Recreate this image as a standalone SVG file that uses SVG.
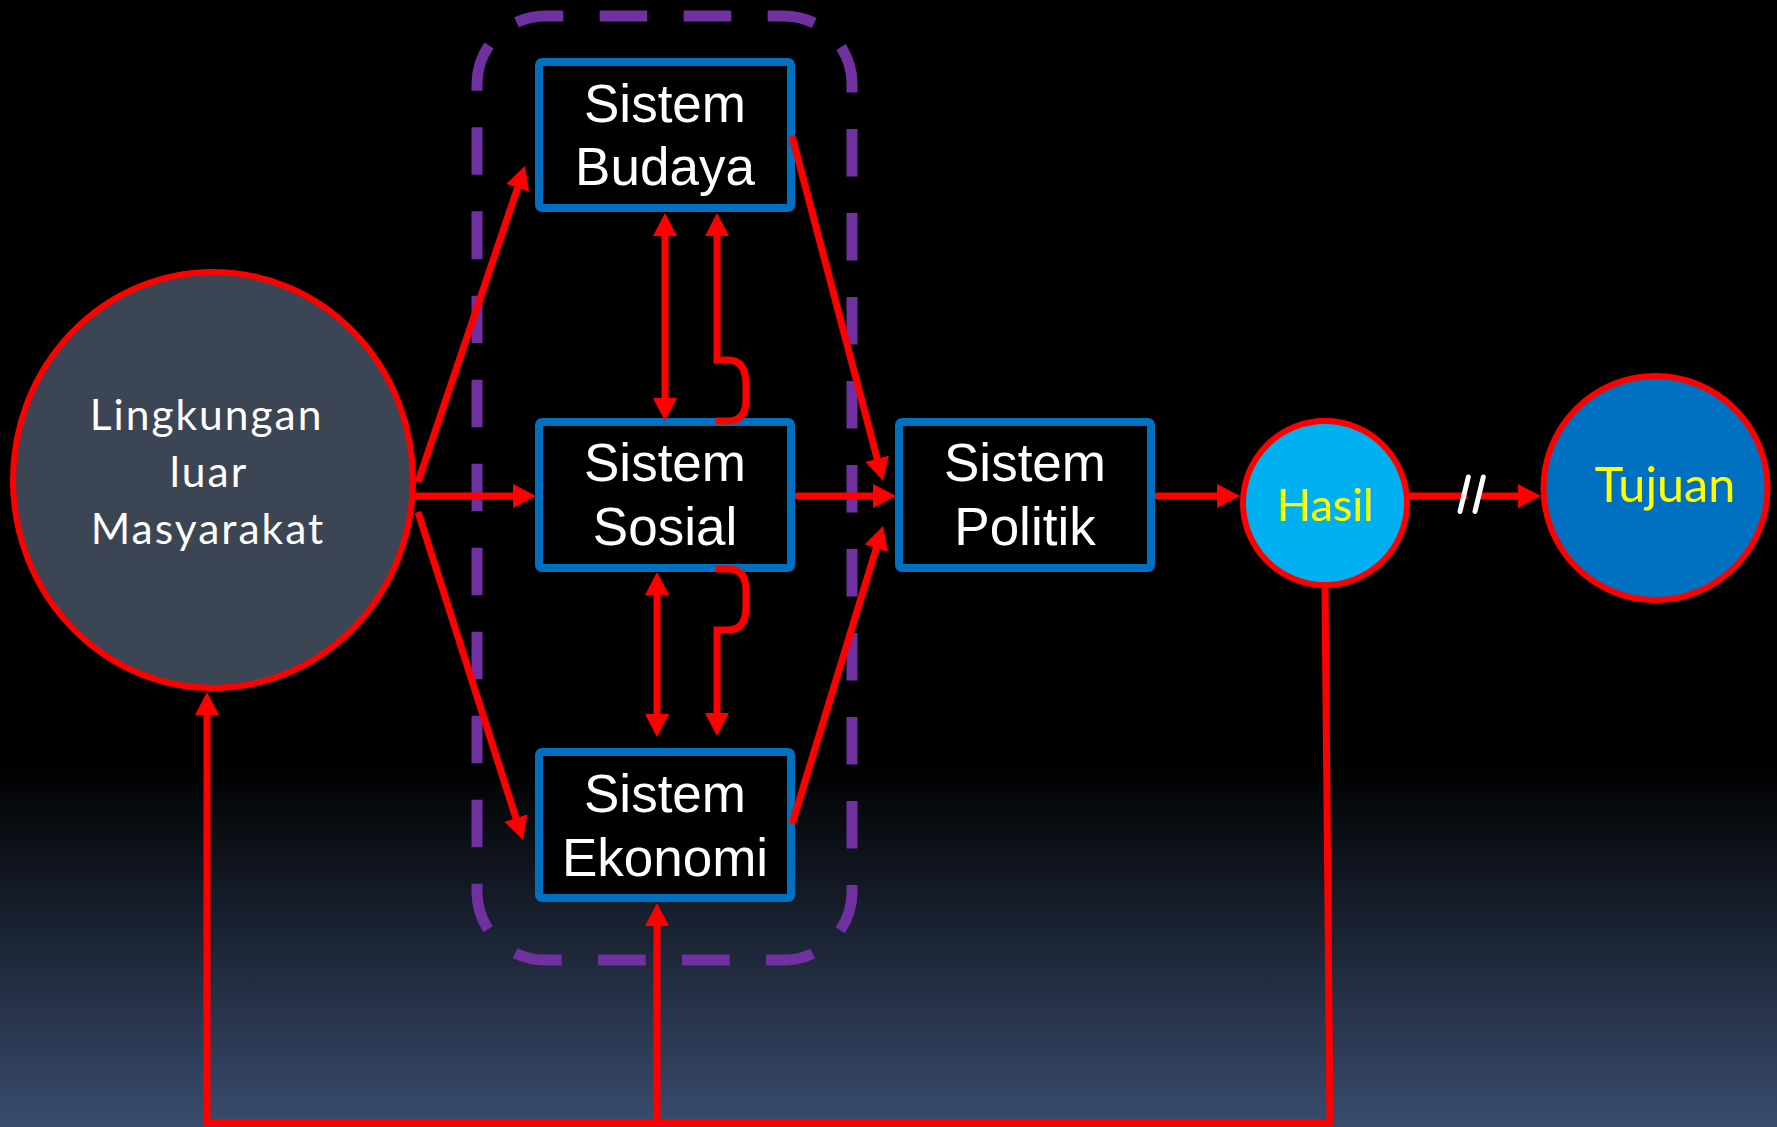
<svg xmlns="http://www.w3.org/2000/svg" width="1777" height="1127" viewBox="0 0 1777 1127">
  <defs>
    <linearGradient id="bg" x1="0" y1="0" x2="0" y2="1">
      <stop offset="0" stop-color="#000000"/>
      <stop offset="0.68" stop-color="#000000"/>
      <stop offset="1" stop-color="#394c6e"/>
    </linearGradient>
    <marker id="ah" markerUnits="userSpaceOnUse" markerWidth="24" markerHeight="24" refX="4" refY="12" orient="auto-start-reverse">
      <path d="M0,0 L23,12 L0,24 Z" fill="#ff0000"/>
    </marker>
    <style>
      .box { fill: #000000; stroke: #0070c0; stroke-width: 8; }
      .boxtxt { font-family: "Liberation Sans", Arial, sans-serif; font-size: 53px; fill: #ffffff; text-anchor: middle; }
      .circ { stroke: #ff0000; stroke-width: 6; }
      .ctxt { font-family: Lato, "Open Sans", sans-serif; text-anchor: middle; }
      .con { fill: none; stroke: #ff0000; stroke-width: 7; }
      .arr { marker-end: url(#ah); }
      .dbl { marker-start: url(#ah); marker-end: url(#ah); }
      .slash { stroke: #ffffff; stroke-width: 5; stroke-linecap: round; }
    </style>
  </defs>

  <rect x="0" y="0" width="1777" height="1127" fill="url(#bg)"/>

  <g id="group-subsistem">
    <path d="M477,211.7 V892 A68,68 0 0 0 545,960 H784 A68,68 0 0 0 852,892 V84 A68,68 0 0 0 784,16 H545 A68,68 0 0 0 477,84 Z" fill="none" stroke="#7030a0" stroke-width="11" stroke-dasharray="47.6 36.4"/>
  </g>

  <g id="node-lingkungan">
    <ellipse cx="213" cy="480" rx="200" ry="208" fill="#3b4554" class="circ"/>
    <text class="ctxt" font-size="42.5" letter-spacing="2" fill="#ffffff">
      <tspan x="213" y="430">Lingkungan</tspan>
      <tspan x="215" y="487">luar</tspan>
      <tspan x="208" y="544">Masyarakat</tspan>
    </text>
  </g>

  <g id="node-budaya">
    <rect x="539" y="62" width="252" height="146" rx="3" class="box"/>
    <text class="boxtxt"><tspan x="665" y="122">Sistem</tspan><tspan x="665" y="185">Budaya</tspan></text>
  </g>

  <g id="node-sosial">
    <rect x="539" y="422" width="252" height="146" rx="3" class="box"/>
    <text class="boxtxt"><tspan x="665" y="481">Sistem</tspan><tspan x="665" y="545">Sosial</tspan></text>
  </g>

  <g id="node-ekonomi">
    <rect x="539" y="752" width="252" height="146" rx="3" class="box"/>
    <text class="boxtxt"><tspan x="665" y="812">Sistem</tspan><tspan x="665" y="876">Ekonomi</tspan></text>
  </g>

  <g id="node-politik">
    <rect x="899" y="422" width="252" height="146" rx="3" class="box"/>
    <text class="boxtxt"><tspan x="1025" y="481">Sistem</tspan><tspan x="1025" y="545">Politik</tspan></text>
  </g>

  <g id="node-hasil">
    <ellipse cx="1325" cy="503" rx="82" ry="82" fill="#00b0f0" class="circ"/>
    <text class="ctxt" x="1325" y="521" font-size="45" fill="#ffff00">Hasil</text>
  </g>

  <g id="node-tujuan">
    <ellipse cx="1655.5" cy="488" rx="112" ry="112" fill="#0070c0" class="circ"/>
    <text class="ctxt" x="1665" y="502" font-size="48.5" fill="#ffff00">Tujuan</text>
  </g>

  <g id="connectors">
    <!-- Lingkungan to subsystems -->
    <path class="con arr" d="M418,482 L518.9,184"/>
    <path class="con arr" d="M416,496 H517"/>
    <path class="con arr" d="M418,512 L517.2,821.9"/>
    <!-- subsystems to Politik -->
    <path class="con arr" d="M792,136 L878.2,462.6"/>
    <path class="con arr" d="M795,496 H877"/>
    <path class="con arr" d="M792,824 L877.5,544.2"/>
    <!-- Budaya / Sosial -->
    <path class="con dbl" d="M665,232 V402"/>
    <path class="con arr" d="M716,421 H728 Q746,421 746,400 V385 Q746,360 728,360 H717 V232"/>
    <!-- Sosial / Ekonomi -->
    <path class="con dbl" d="M657,591 V718"/>
    <path class="con arr" d="M716,569 H728 Q746,569 746,590 V607 Q746,630 728,630 H717 V717"/>
    <!-- Politik to Hasil to Tujuan -->
    <path class="con arr" d="M1155,496 H1221"/>
    <path class="con" d="M1409,496 H1467"/>
    <path class="con arr" d="M1481,496 H1522"/>
    <line class="slash" x1="1468.3" y1="477" x2="1460" y2="511.5"/>
    <line class="slash" x1="1483.3" y1="477" x2="1475" y2="511.5"/>
    <!-- feedback -->
    <path class="con arr" d="M1325,588 L1330,1123 H207 V711"/>
    <path class="con arr" d="M657,1123 V922"/>
  </g>
</svg>
